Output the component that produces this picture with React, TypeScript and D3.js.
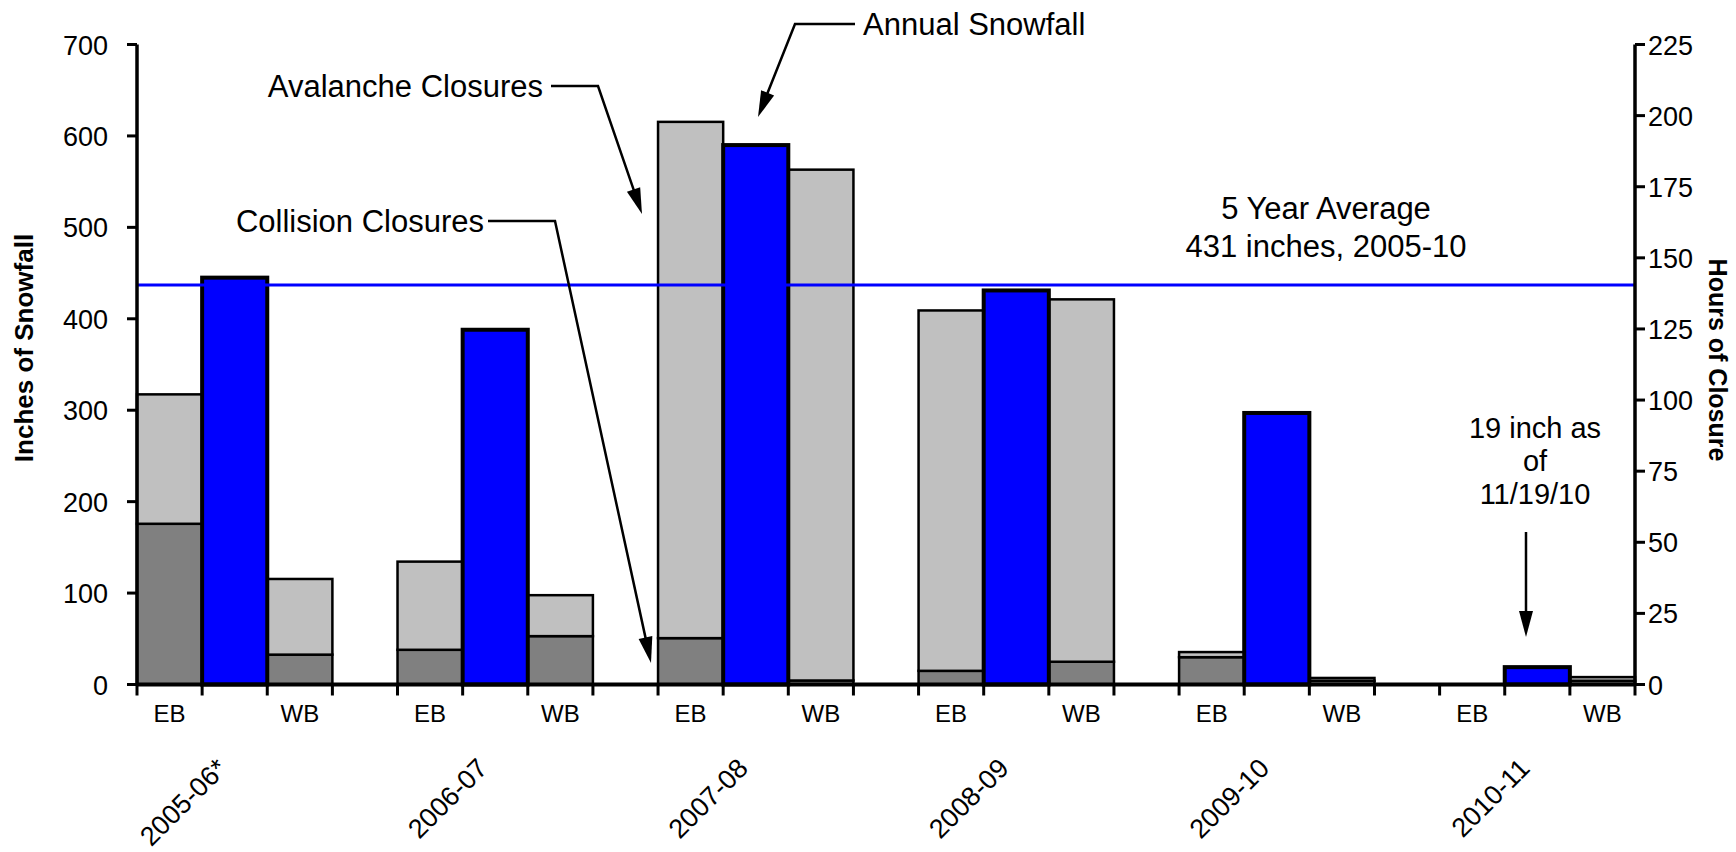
import React from "react";
import * as d3 from "d3";

const seasons = ["2005-06*", "2006-07", "2007-08", "2008-09", "2009-10", "2010-11"];
const snowfall = [445, 388, 590, 431, 297, 19];
const ebCollision = [56.5, 12.2, 16.3, 4.8, 9.6, 0];
const ebAvalanche = [45.5, 31, 181.5, 126.7, 1.8, 0];
const wbCollision = [10.5, 17, 1.4, 8, 1.3, 1.3];
const wbAvalanche = [26.6, 14.4, 179.6, 127.4, 1.0, 1.3];
const leftTicks = [0, 100, 200, 300, 400, 500, 600, 700];
const rightTicks = [0, 25, 50, 75, 100, 125, 150, 175, 200, 225];
const averageValue = 437;
const averageLabel = ["5 Year Average", "431 inches, 2005-10"];
const noteLabel = ["19 inch as", "of", "11/19/10"];
const directionLabels = ["EB", "WB"];

const W = 1736;
const H = 852;
const left = 137;
const right = 1635;
const top = 44.5;
const bottom = 684.5;
const FONT = "'Liberation Sans', Arial, sans-serif";
const ANN = 31;

const slotCount = seasons.length * 4 - 1;
const x = d3
  .scaleBand<number>()
  .domain(d3.range(slotCount))
  .range([left, right])
  .paddingInner(0)
  .paddingOuter(0);
const yL = d3.scaleLinear().domain([0, 700]).range([bottom, top]);
const yR = d3.scaleLinear().domain([0, 225]).range([bottom, top]);

function Arrow({ pts }: { pts: [number, number][] }) {
  const line = d3.line();
  const n = pts.length;
  const [x1, y1] = pts[n - 2];
  const [x2, y2] = pts[n - 1];
  const ang = Math.atan2(y2 - y1, x2 - x1);
  const len = 26;
  const hw = 7;
  const bx = x2 - len * Math.cos(ang);
  const by = y2 - len * Math.sin(ang);
  const px = -Math.sin(ang) * hw;
  const py = Math.cos(ang) * hw;
  const shaft = pts.slice(0, n - 1).concat([[bx + (x2 - bx) * 0.1, by + (y2 - by) * 0.1]]) as [number, number][];
  return (
    <g>
      <path d={line(shaft) || ""} fill="none" stroke="#000" strokeWidth={2.5} />
      <polygon points={`${x2},${y2} ${bx + px},${by + py} ${bx - px},${by - py}`} fill="#000" />
    </g>
  );
}

export default function App() {
  const bw = x.bandwidth();
  const stacks = [
    { sub: 0, col: ebCollision, ava: ebAvalanche },
    { sub: 2, col: wbCollision, ava: wbAvalanche },
  ];
  return (
    <svg
      width={W}
      height={H}
      style={{ position: "absolute", left: 0, top: 0, background: "#fff" }}
      fontFamily={FONT}
    >
      <rect x={0} y={0} width={W} height={H} fill="#fff" />
      {/* stacked closure bars (right axis) */}
      {seasons.map((s, i) =>
        stacks.map((st) => {
          const slot = i * 4 + st.sub;
          const c = st.col[i];
          const a = st.ava[i];
          const bx = x(slot)!;
          return (
            <g key={s + st.sub}>
              {c > 0 && (
                <rect x={bx} y={yR(c)} width={bw} height={yR(0) - yR(c)} fill="#808080" stroke="#000" strokeWidth={2.5} />
              )}
              {a > 0 && (
                <rect x={bx} y={yR(c + a)} width={bw} height={yR(c) - yR(c + a)} fill="#C0C0C0" stroke="#000" strokeWidth={2.5} />
              )}
            </g>
          );
        })
      )}
      {/* snowfall bars (left axis) */}
      {seasons.map((s, i) => {
        const bx = x(i * 4 + 1)!;
        return (
          <rect key={"sf" + s} x={bx} y={yL(snowfall[i])} width={bw} height={yL(0) - yL(snowfall[i])} fill="#0000FF" stroke="#000" strokeWidth={4} />
        );
      })}
      {/* average line */}
      <line x1={left} x2={right} y1={yL(averageValue)} y2={yL(averageValue)} stroke="#0000FF" strokeWidth={3} />

      {/* left axis */}
      <line x1={left} x2={left} y1={top} y2={bottom} stroke="#000" strokeWidth={3.5} />
      {leftTicks.map((t) => (
        <g key={"l" + t}>
          <line x1={left - 10} x2={left} y1={yL(t)} y2={yL(t)} stroke="#000" strokeWidth={3} />
          <text x={108} y={yL(t) + 10} textAnchor="end" fontSize={27} fill="#000">
            {t}
          </text>
        </g>
      ))}
      {/* right axis */}
      <line x1={right} x2={right} y1={top} y2={bottom} stroke="#000" strokeWidth={3.5} />
      {rightTicks.map((t) => (
        <g key={"r" + t}>
          <line x1={right} x2={right + 10} y1={yR(t)} y2={yR(t)} stroke="#000" strokeWidth={3} />
          <text x={1648} y={yR(t) + 10} textAnchor="start" fontSize={27} fill="#000">
            {t}
          </text>
        </g>
      ))}
      {/* x axis */}
      <line x1={left} x2={right} y1={bottom} y2={bottom} stroke="#000" strokeWidth={4} />
      {d3.range(slotCount + 1).map((k) => {
        const xx = k < slotCount ? x(k)! : right;
        return <line key={"xt" + k} x1={xx} x2={xx} y1={bottom} y2={bottom + 11} stroke="#000" strokeWidth={3} />;
      })}
      {seasons.map((s, i) => (
        <g key={"lab" + s}>
          {[0, 2].map((sub, j) => (
            <text key={sub} x={x(i * 4 + sub)! + bw / 2} y={722} textAnchor="middle" fontSize={24} fill="#000">
              {directionLabels[j]}
            </text>
          ))}
          <text
            transform={`translate(${x(i * 4 + 1)! + bw / 2 - 6},${770}) rotate(-45)`}
            textAnchor="end"
            fontSize={27}
            fill="#000"
          >
            {s}
          </text>
        </g>
      ))}

      {/* axis titles */}
      <text transform={`translate(33,348) rotate(-90)`} textAnchor="middle" fontSize={26} fontWeight="bold" fill="#000">
        Inches of Snowfall
      </text>
      <text transform={`translate(1709,360) rotate(90)`} textAnchor="middle" fontSize={25} fontWeight="bold" fill="#000">
        Hours of Closure
      </text>

      {/* annotations */}
      <text x={863} y={35} fontSize={ANN} fill="#000">Annual Snowfall</text>
      <Arrow pts={[[855, 24], [795, 24], [758, 117]]} />
      <text x={543} y={97} textAnchor="end" fontSize={ANN} fill="#000">Avalanche Closures</text>
      <Arrow pts={[[551, 86], [598, 86], [642, 214]]} />
      <text x={484} y={232} textAnchor="end" fontSize={ANN} fill="#000">Collision Closures</text>
      <Arrow pts={[[488, 221], [555, 221], [651, 663]]} />
      {averageLabel.map((t, i) => (
        <text key={t} x={1326} y={219 + i * 38} textAnchor="middle" fontSize={ANN} fill="#000">
          {t}
        </text>
      ))}
      {noteLabel.map((t, i) => (
        <text key={t} x={1535} y={438 + i * 33} textAnchor="middle" fontSize={29} fill="#000">
          {t}
        </text>
      ))}
      <Arrow pts={[[1526, 532], [1526, 637]]} />
    </svg>
  );
}
